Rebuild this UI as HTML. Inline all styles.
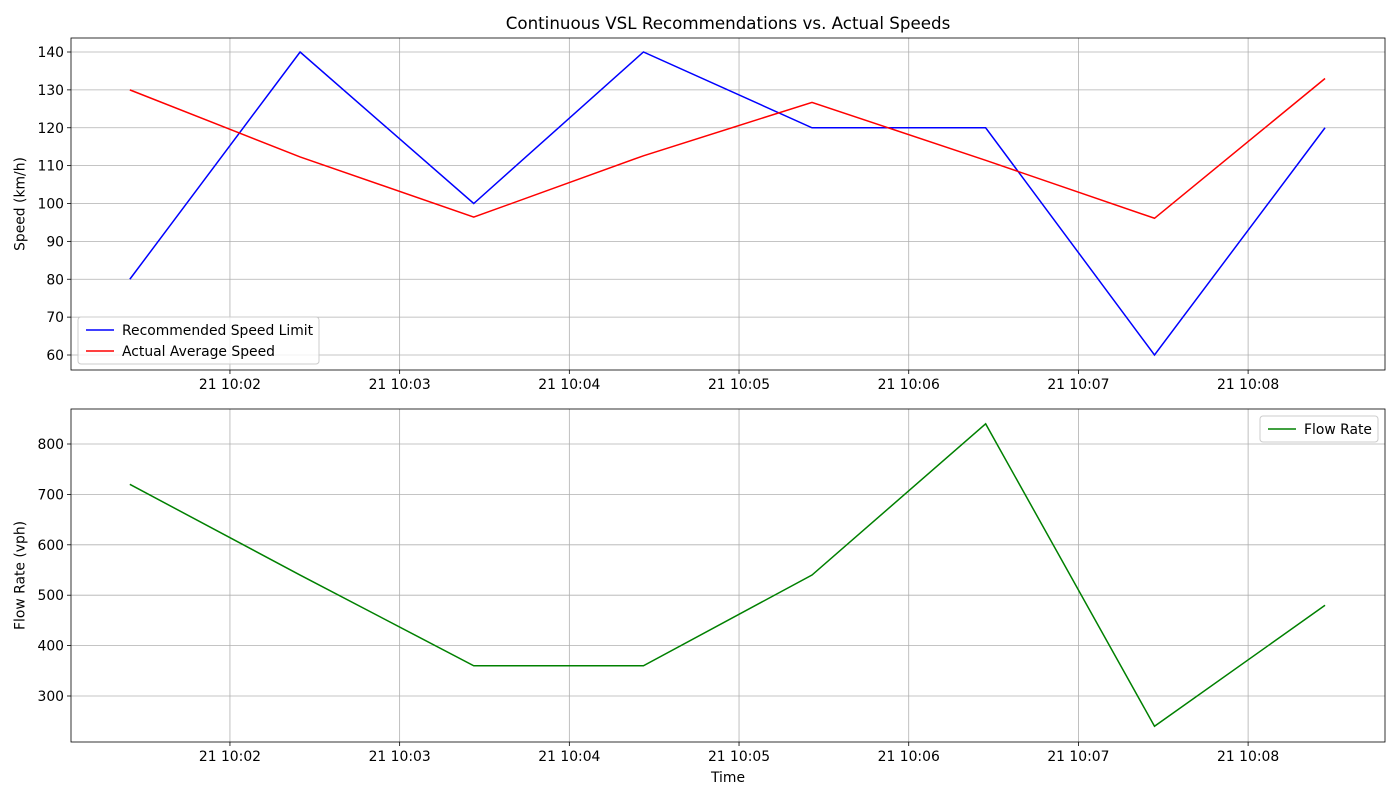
<!DOCTYPE html>
<html><head><meta charset="utf-8"><style>
body{margin:0;background:#fff;}
svg{display:block;font-family:"DejaVu Sans","Liberation Sans",sans-serif;}
</style></head><body>
<svg id="chart" width="1400" height="800" viewBox="0 0 1400 800" xmlns="http://www.w3.org/2000/svg"></svg>
<script>
// data (time in seconds after 10:00:00)
const times = [84.6, 144.8, 206.2, 266.2, 325.8, 387.2, 446.9, 507.2];
const recommended = [80, 140, 100, 140, 120, 120, 60, 120];
const actual = [130, 112.3, 96.4, 112.6, 126.7, 111.4, 96.1, 133];
const flow = [720, 540, 360, 360, 540, 840, 240, 480];
const xTickSecs = [120, 180, 240, 300, 360, 420, 480];
const xTickLabels = ["21 10:02","21 10:03","21 10:04","21 10:05","21 10:06","21 10:07","21 10:08"];
const speedTicks = [60,70,80,90,100,110,120,130,140];
const flowTicks = [300,400,500,600,700,800];

const NS="http://www.w3.org/2000/svg";
const svg=document.getElementById('chart');
function el(tag,attrs,parent){const e=document.createElementNS(NS,tag);for(const k in attrs)e.setAttribute(k,attrs[k]);(parent||svg).appendChild(e);return e;}
const L=71,R=1385;
const xMin=63.8,xMax=528.4;
const FS=13.9;
const x=s=>L+(s-xMin)/(xMax-xMin)*(R-L);

function panel(top,bottom,yAt,ticks,name,ylabel,series,legend){
  const g=el('g',{});
  
  
  xTickSecs.forEach((s,i)=>{
    const gx=x(s);
    el('line',{x1:gx,x2:gx,y1:top,y2:bottom,stroke:'#b0b0b0','stroke-width':0.8},g);
    el('line',{x1:gx,x2:gx,y1:bottom,y2:bottom+4,stroke:'#000','stroke-width':0.8},g);
    const t=el('text',{x:gx,y:bottom+19,'font-size':FS,'text-anchor':'middle',fill:'#000'},g);
    t.textContent=xTickLabels[i];
    
    
  });
  ticks.forEach(v=>{
    const gy=yAt(v);
    el('line',{x1:L,x2:R,y1:gy,y2:gy,stroke:'#b0b0b0','stroke-width':0.8},g);
    el('line',{x1:L-4,x2:L,y1:gy,y2:gy,stroke:'#000','stroke-width':0.8},g);
    const t=el('text',{x:L-7,y:gy+5,'font-size':FS,'text-anchor':'end',fill:'#000'},g);
    t.textContent=v;
    
    
  });
  series.forEach(s=>{
    const p=el('polyline',{points:times.map((tm,i)=>x(tm)+','+yAt(s.vals[i])).join(' '),fill:'none',stroke:s.color,'stroke-width':1.5},g);
    
    
  });
  el('rect',{x:L,y:top,width:R-L,height:bottom-top,fill:'none',stroke:'#000','stroke-width':0.8},g);
  const yl=el('text',{x:0,y:0,'font-size':FS,'text-anchor':'middle',transform:`translate(24.5,${(top+bottom)/2}) rotate(-90)`},g);
  yl.textContent=ylabel;
  
  
  const lg=el('g',{},g);
  
  
  el('rect',{x:legend.x,y:legend.y,width:legend.w,height:legend.items.length*21+5,rx:3,fill:'#fff','fill-opacity':0.8,stroke:'#ccc'},lg);
  legend.items.forEach((it,i)=>{
    const cy=legend.y+13+i*21;
    el('line',{x1:legend.x+8,x2:legend.x+36,y1:cy,y2:cy,stroke:it.color,'stroke-width':1.5},lg);
    const t=el('text',{x:legend.x+44,y:cy+5,'font-size':FS},lg);
    t.textContent=it.label;
    
    
  });
}
const sTop=38,sBot=370;
const ySpeed=v=>52+(140-v)*(355-52)/80;
panel(sTop,sBot,ySpeed,speedTicks,'speed-panel','Speed (km/h)',
  [{vals:recommended,color:'#0000ff',name:'recommended-speed-line'},{vals:actual,color:'#ff0000',name:'actual-speed-line'}],
  {x:78,y:317,w:241,items:[{label:'Recommended Speed Limit',color:'#0000ff'},{label:'Actual Average Speed',color:'#ff0000'}]});
const fTop=409,fBot=742;
const yFlow=v=>444+(800-v)*(696-444)/500;
panel(fTop,fBot,yFlow,flowTicks,'flow-panel','Flow Rate (vph)',
  [{vals:flow,color:'#008000',name:'flow-rate-line'}],
  {x:1260,y:416,w:118,items:[{label:'Flow Rate',color:'#008000'}]});
const title=el('text',{x:728,y:29,'font-size':16.7,'text-anchor':'middle'});
title.textContent='Continuous VSL Recommendations vs. Actual Speeds';


const xt=el('text',{x:728,y:782,'font-size':FS,'text-anchor':'middle'});
xt.textContent='Time';


</script>
</body></html>
